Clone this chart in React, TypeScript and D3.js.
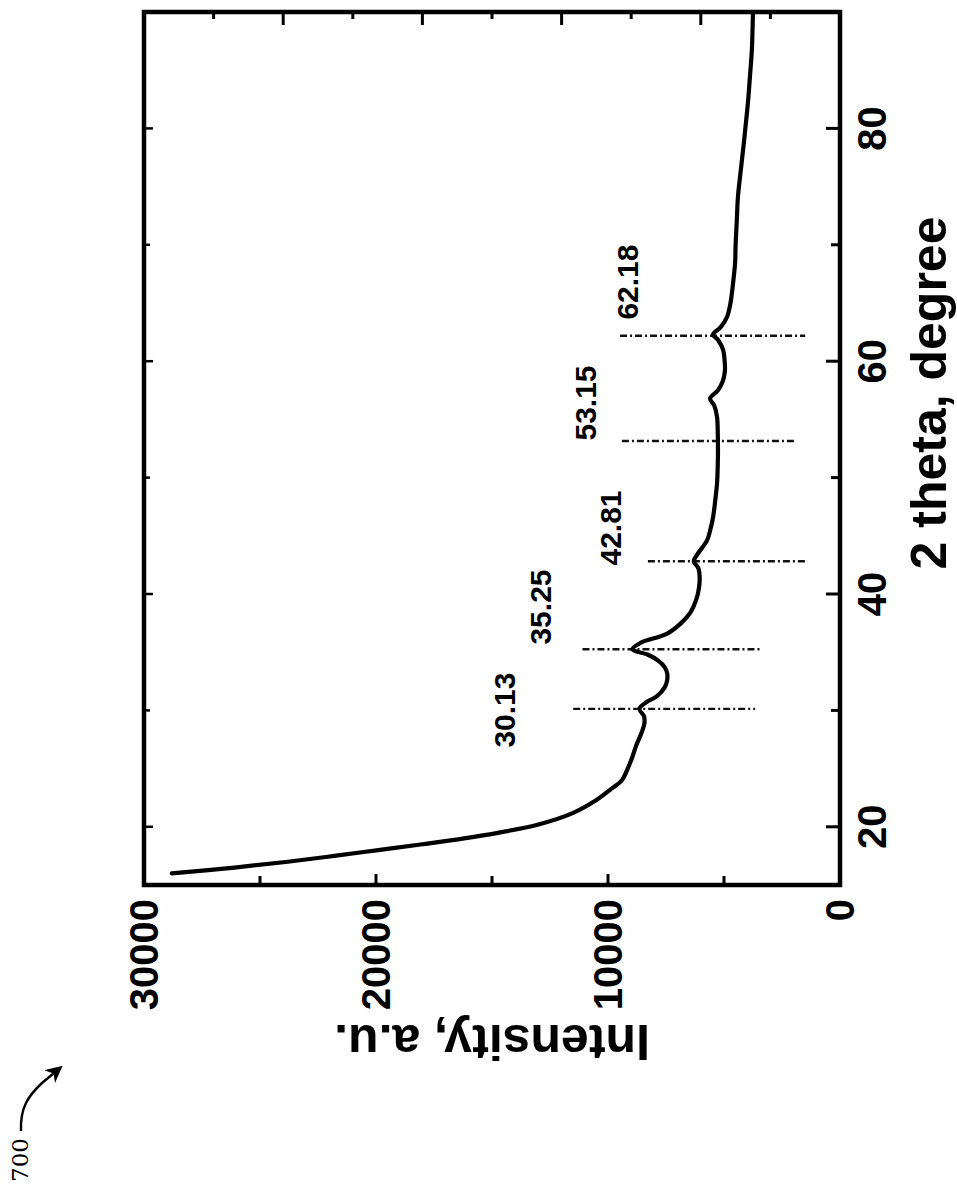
import React from 'react';
import * as d3 from 'd3';

// Diffraction pattern: 2θ (degrees) against intensity (a.u.)
const twoTheta = [
  16.0, 16.5, 17.0, 17.5, 18.0, 18.5, 19.0, 19.5, 20.2, 21.2, 22.3, 23.2, 24.0, 25.0, 26.0, 27.0,
  28.1, 28.9, 29.5, 30.13, 30.7, 31.2, 32.0, 32.6, 33.2, 33.7, 34.3, 34.8, 35.25, 35.8, 36.6,
  37.5, 38.4, 39.5, 40.5, 41.5, 42.2, 42.81, 43.4, 44.6, 45.6, 46.6, 48.0, 49.5, 51.0, 52.4,
  54.0, 55.2, 56.2, 56.8, 57.5, 58.3, 59.2, 60.2, 61.0, 61.8, 62.3, 62.9, 63.8, 65.0, 66.7,
  68.5, 70.0, 72.0, 74.1, 76.0, 78.1, 80.0, 82.4, 84.5, 86.7, 88.5, 90.0,
];
const intensity = [
  28800, 26100, 23800, 21800, 19900, 18000, 16200, 14700, 13000, 11500, 10500, 9900, 9400, 9150, 8950, 8780,
  8550, 8430, 8450, 8650, 8350, 7900, 7550, 7450, 7450, 7550, 7850, 8300, 8950, 8600, 7450,
  6850, 6450, 6200, 6080, 6050, 6100, 6300, 6150, 5730, 5580, 5470, 5380, 5300, 5270, 5260,
  5270, 5300, 5420, 5600, 5260, 5050, 4960, 4980, 5040, 5250, 5470, 5150, 4870, 4720, 4610,
  4520, 4500, 4450, 4400, 4300, 4180, 4080, 3960, 3880, 3800, 3770, 3750,
];

// Indexed peaks: marker position and the intensity span of each dash-dot marker
const peakPositions = [30.13, 35.25, 42.81, 53.15, 62.18];
const peakLabels = ['30.13', '35.25', '42.81', '53.15', '62.18'];
const peakLineHigh = [11500, 11100, 8280, 9400, 9480];
const peakLineLow = [3660, 3360, 1380, 1900, 1500];

// Where each peak caption sits (2θ, intensity)
const labelTheta = [30.03, 38.88, 45.67, 56.41, 66.8];
const labelIntensity = [14440, 12930, 9910, 10990, 9140];

const thetaTickLabels = [20, 40, 60, 80];
const thetaTicks = [20, 30, 40, 50, 60, 70, 80];
const intensityTickLabels = [0, 10000, 20000, 30000];
const intensityTicks = [5000, 10000, 15000, 20000, 25000];
const rightAxisTicks = [3000, 6000, 9000, 12000, 15000, 18000, 21000, 24000, 27000];

const WIDTH = 957;
const HEIGHT = 1184;
// frame of the plot on the page (the plot is turned a quarter turn counter-clockwise)
const frame = { left: 144, top: 12, right: 840, bottom: 885 };
const plotW = frame.bottom - frame.top; // along 2θ
const plotH = frame.right - frame.left; // along intensity

const FONT = '"Liberation Sans", Arial, Helvetica, sans-serif';

export default function App() {
  const x = d3.scaleLinear().domain([15, 90]).range([0, plotW]);
  const y = d3.scaleLinear().domain([0, 30000]).range([plotH, 0]);

  const pts: [number, number][] = twoTheta.map((t, i) => [t, intensity[i]]);
  const line = d3
    .line<[number, number]>()
    .x((d) => x(d[0]))
    .y((d) => y(d[1]))
    .curve(d3.curveCatmullRom.alpha(0.5));

  return (
    <svg
      width={WIDTH}
      height={HEIGHT}
      viewBox={`0 0 ${WIDTH} ${HEIGHT}`}
      style={{ position: 'absolute', left: 0, top: 0, background: '#fff' }}
    >
      <defs>
        <clipPath id="plot-clip">
          <rect x={0} y={0} width={plotW} height={plotH} />
        </clipPath>
        <marker id="arrowhead" viewBox="0 0 10 10" refX="8" refY="5" markerWidth="7" markerHeight="7" orient="auto">
          <path d="M0,0 L10,5 L0,10 L3,5 Z" fill="#000" />
        </marker>
      </defs>
      <rect x={0} y={0} width={WIDTH} height={HEIGHT} fill="#fff" />

      <g transform={`translate(${frame.left},${frame.bottom}) rotate(-90)`}>
        {/* peak markers */}
        <g clipPath="url(#plot-clip)">
          {peakPositions.map((p, i) => (
            <line
              key={`pk-${i}`}
              x1={x(p)}
              x2={x(p)}
              y1={y(peakLineHigh[i])}
              y2={y(peakLineLow[i])}
              stroke="#111"
              strokeWidth={2.4}
              strokeDasharray="7,3,2,3"
            />
          ))}
          <path d={line(pts) || ''} fill="none" stroke="#000" strokeWidth={4.2} strokeLinejoin="round" strokeLinecap="round" />
        </g>

        {/* peak captions */}
        {peakLabels.map((lab, i) => (
          <text
            key={`lab-${i}`}
            x={x(labelTheta[i])}
            y={y(labelIntensity[i])}
            textAnchor="middle"
            dominantBaseline="central"
            fontFamily={FONT}
            fontWeight="bold"
            fontSize={30}
            fill="#000"
          >
            {lab}
          </text>
        ))}

        {/* frame */}
        <rect x={0} y={0} width={plotW} height={plotH} fill="none" stroke="#000" strokeWidth={4.5} />

        {/* 2θ ticks, bottom and top */}
        {thetaTicks.map((t) => (
          <g key={`tt-${t}`}>
            <line x1={x(t)} x2={x(t)} y1={plotH} y2={plotH - (t % 20 === 0 ? 14 : 9)} stroke="#000" strokeWidth={3} />
            <line x1={x(t)} x2={x(t)} y1={0} y2={t % 20 === 0 ? 9 : 6} stroke="#000" strokeWidth={2.5} />
          </g>
        ))}
        {thetaTickLabels.map((t) => (
          <text
            key={`ttl-${t}`}
            x={x(t)}
            y={plotH + 32}
            textAnchor="middle"
            dominantBaseline="central"
            fontFamily={FONT}
            fontWeight="bold"
            fontSize={40}
            fill="#000"
          >
            {t}
          </text>
        ))}

        {/* intensity ticks, left and right */}
        {intensityTicks.map((v) => (
          <line key={`it-${v}`} x1={0} x2={v % 10000 === 0 ? 11 : 9} y1={y(v)} y2={y(v)} stroke="#000" strokeWidth={3} />
        ))}
        {rightAxisTicks.map((v) => (
          <line
            key={`rt-${v}`}
            x1={plotW}
            x2={plotW - (v % 6000 === 0 ? 13 : 7)}
            y1={y(v)}
            y2={y(v)}
            stroke="#000"
            strokeWidth={3}
          />
        ))}
        {intensityTickLabels.map((v) => (
          <text
            key={`itl-${v}`}
            x={-14}
            y={y(v)}
            textAnchor="end"
            dominantBaseline="central"
            fontFamily={FONT}
            fontWeight="bold"
            fontSize={40}
            fill="#000"
          >
            {v}
          </text>
        ))}

        {/* axis titles */}
        <text
          x={492}
          y={785}
          textAnchor="middle"
          dominantBaseline="central"
          fontFamily={FONT}
          fontWeight="bold"
          fontSize={50}
          fill="#000"
        >
          2 theta, degree
        </text>
        <text
          transform={`translate(-157,${plotH / 2}) rotate(-90)`}
          textAnchor="middle"
          dominantBaseline="central"
          fontFamily={FONT}
          fontWeight="bold"
          fontSize={50}
          fill="#000"
        >
          Intensity, a.u.
        </text>
      </g>

      {/* figure reference numeral */}
      <text
        transform="translate(20,1160) rotate(-90)"
        textAnchor="middle"
        dominantBaseline="central"
        fontFamily='"DejaVu Serif", "Liberation Serif", serif'
        fontSize={23}
        fill="#000"
      >
        700
      </text>
      <path
        d="M21,1131 C20,1108 28,1096 42,1083 L60,1068"
        fill="none"
        stroke="#000"
        strokeWidth={2.4}
        markerEnd="url(#arrowhead)"
      />
    </svg>
  );
}
